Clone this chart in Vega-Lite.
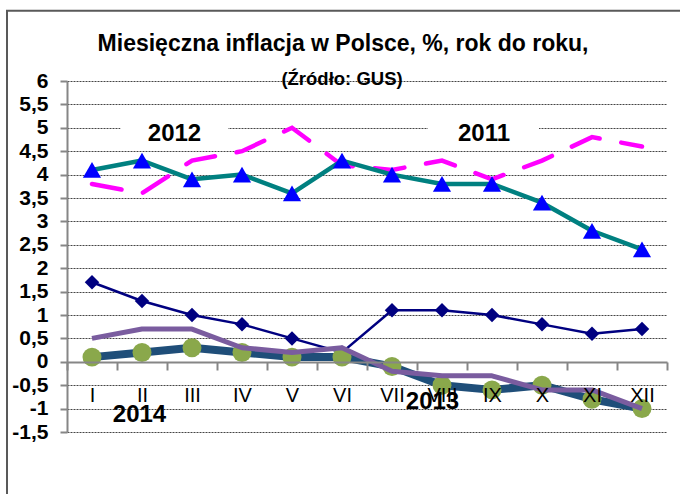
{
  "$schema": "https://vega.github.io/schema/vega-lite/v6.json",
  "width": 600,
  "height": 351,
  "autosize": {"type": "none"},
  "padding": {"left": 67, "top": 81, "right": 13, "bottom": 62},
  "background": "white",
  "datasets": {
    "series": [
      {"month": "I", "series": "2011", "value": 3.8},
      {"month": "II", "series": "2011", "value": 3.6},
      {"month": "III", "series": "2011", "value": 4.3},
      {"month": "IV", "series": "2011", "value": 4.5},
      {"month": "V", "series": "2011", "value": 5.0},
      {"month": "VI", "series": "2011", "value": 4.2},
      {"month": "VII", "series": "2011", "value": 4.1},
      {"month": "VIII", "series": "2011", "value": 4.3},
      {"month": "IX", "series": "2011", "value": 3.9},
      {"month": "X", "series": "2011", "value": 4.3},
      {"month": "XI", "series": "2011", "value": 4.8},
      {"month": "XII", "series": "2011", "value": 4.6},
      {"month": "I", "series": "2012", "value": 4.1},
      {"month": "II", "series": "2012", "value": 4.3},
      {"month": "III", "series": "2012", "value": 3.9},
      {"month": "IV", "series": "2012", "value": 4.0},
      {"month": "V", "series": "2012", "value": 3.6},
      {"month": "VI", "series": "2012", "value": 4.3},
      {"month": "VII", "series": "2012", "value": 4.0},
      {"month": "VIII", "series": "2012", "value": 3.8},
      {"month": "IX", "series": "2012", "value": 3.8},
      {"month": "X", "series": "2012", "value": 3.4},
      {"month": "XI", "series": "2012", "value": 2.8},
      {"month": "XII", "series": "2012", "value": 2.4},
      {"month": "I", "series": "2013", "value": 1.7},
      {"month": "II", "series": "2013", "value": 1.3},
      {"month": "III", "series": "2013", "value": 1.0},
      {"month": "IV", "series": "2013", "value": 0.8},
      {"month": "V", "series": "2013", "value": 0.5},
      {"month": "VI", "series": "2013", "value": 0.2},
      {"month": "VII", "series": "2013", "value": 1.1},
      {"month": "VIII", "series": "2013", "value": 1.1},
      {"month": "IX", "series": "2013", "value": 1.0},
      {"month": "X", "series": "2013", "value": 0.8},
      {"month": "XI", "series": "2013", "value": 0.6},
      {"month": "XII", "series": "2013", "value": 0.7},
      {"month": "I", "series": "2014b", "value": 0.1},
      {"month": "II", "series": "2014b", "value": 0.2},
      {"month": "III", "series": "2014b", "value": 0.3},
      {"month": "IV", "series": "2014b", "value": 0.2},
      {"month": "V", "series": "2014b", "value": 0.1},
      {"month": "VI", "series": "2014b", "value": 0.1},
      {"month": "VII", "series": "2014b", "value": -0.1},
      {"month": "VIII", "series": "2014b", "value": -0.5},
      {"month": "IX", "series": "2014b", "value": -0.6},
      {"month": "X", "series": "2014b", "value": -0.5},
      {"month": "XI", "series": "2014b", "value": -0.8},
      {"month": "XII", "series": "2014b", "value": -1.0},
      {"month": "I", "series": "2014", "value": 0.5},
      {"month": "II", "series": "2014", "value": 0.7},
      {"month": "III", "series": "2014", "value": 0.7},
      {"month": "IV", "series": "2014", "value": 0.3},
      {"month": "V", "series": "2014", "value": 0.2},
      {"month": "VI", "series": "2014", "value": 0.3},
      {"month": "VII", "series": "2014", "value": -0.2},
      {"month": "VIII", "series": "2014", "value": -0.3},
      {"month": "IX", "series": "2014", "value": -0.3},
      {"month": "X", "series": "2014", "value": -0.6},
      {"month": "XI", "series": "2014", "value": -0.6},
      {"month": "XII", "series": "2014", "value": -1.0}
    ],
    "yearLabels": [
      {"label": "2012", "px": 2.15, "py": 4.86},
      {"label": "2011", "px": 8.34, "py": 4.86},
      {"label": "2014", "px": 1.45, "py": -1.14},
      {"label": "2013", "px": 7.31, "py": -0.86}
    ],
    "labelBoxes": [
      {"label": "2012", "x0": 1.07, "x1": 3.22, "y0": 4.65, "y1": 5.4},
      {"label": "2011", "x0": 7.22, "x1": 9.44, "y0": 4.65, "y1": 5.4}
    ],
    "titles": [
      {"text": "Miesięczna inflacja w Polsce, %, rok do roku,", "kind": "title", "px": 5.52, "py": 6.65},
      {"text": "(Źródło: GUS)", "kind": "subtitle", "px": 5.5, "py": 5.91}
    ]
  },
  "config": {
    "font": "Liberation Sans",
    "view": {"stroke": null}
  },
  "layer": [
    {
      "layer": [
        {
          "data": {"values": [{"frame": "border"}]},
          "mark": {"type": "rect", "fill": null, "stroke": "#595959", "strokeWidth": 2, "clip": false},
          "encoding": {
            "x": {"datum": -1.2, "type": "quantitative", "scale": {"domain": [0, 12], "nice": false, "zero": false}, "axis": null},
            "x2": {"datum": 14},
            "y": {"datum": 7.5, "type": "quantitative", "scale": {"domain": [-1.5, 6], "nice": false, "zero": false}, "title": null},
            "y2": {"datum": -4}
          }
        },
        {
          "data": {"name": "labelBoxes"},
          "mark": {"type": "rect", "fill": "white", "stroke": null},
          "encoding": {
            "x": {"field": "x0", "type": "quantitative", "scale": {"domain": [0, 12], "nice": false, "zero": false}, "axis": null},
            "x2": {"field": "x1"},
            "y": {"field": "y0", "type": "quantitative", "scale": {"domain": [-1.5, 6], "nice": false, "zero": false}, "title": null},
            "y2": {"field": "y1"}
          }
        }
      ]
    },
    {
      "data": {"name": "series"},
      "encoding": {
        "x": {
          "field": "month",
          "type": "ordinal",
          "scale": {"type": "band", "domain": ["I", "II", "III", "IV", "V", "VI", "VII", "VIII", "IX", "X", "XI", "XII"], "paddingInner": 0, "paddingOuter": 0},
          "axis": {
            "orient": "bottom",
            "offset": -70,
            "zindex": 1,
            "labelFont": "Liberation Sans",
            "labelFontSize": 20,
            "labelColor": "black",
            "labelPadding": 15,
            "labelAngle": 0,
            "labelOverlap": false,
            "tickBand": "extent",
            "tickSize": 8,
            "tickColor": "#868686",
            "tickWidth": 2,
            "domainColor": "#868686",
            "domainWidth": 2,
            "grid": false,
            "title": null
          }
        },
        "y": {
          "field": "value",
          "type": "quantitative",
          "scale": {"domain": [-1.5, 6], "nice": false, "zero": false},
          "axis": {
            "values": [-1.5, -1, -0.5, 0, 0.5, 1, 1.5, 2, 2.5, 3, 3.5, 4, 4.5, 5, 5.5, 6],
            "tickCount": 20,
            "labelExpr": "replace('' + datum.value, '.', ',')",
            "labelOverlap": false,
            "labelFont": "Liberation Sans",
            "labelFontWeight": "bold",
            "labelFontSize": 21,
            "labelColor": "black",
            "labelPadding": 12,
            "tickSize": 7,
            "tickColor": "#868686",
            "tickWidth": 2,
            "domainColor": "#868686",
            "domainWidth": 2,
            "grid": true,
            "gridColor": "#444444",
            "gridDash": [2, 1],
            "gridWidth": 1,
            "title": null
          }
        }
      },
      "layer": [
        {
          "transform": [{"filter": "datum.series === '2011'"}],
          "mark": {"type": "line", "color": "#FF00FF", "strokeWidth": 4.5, "strokeDash": [30, 22], "strokeCap": "round"}
        },
        {
          "transform": [{"filter": "datum.series === '2012'"}],
          "mark": {"type": "line", "color": "#008080", "strokeWidth": 4.5, "strokeJoin": "round"}
        },
        {
          "transform": [{"filter": "datum.series === '2012'"}],
          "mark": {"type": "point", "shape": "triangle-up", "filled": true, "color": "#0000FF", "opacity": 1, "size": 330}
        },
        {
          "transform": [{"filter": "datum.series === '2013'"}],
          "mark": {"type": "line", "color": "#000080", "strokeWidth": 2.5}
        },
        {
          "transform": [{"filter": "datum.series === '2013'"}],
          "mark": {"type": "point", "shape": "diamond", "filled": true, "color": "#000080", "opacity": 1, "size": 210}
        },
        {
          "transform": [{"filter": "datum.series === '2014b'"}],
          "mark": {"type": "line", "color": "#1F4E79", "strokeWidth": 8, "strokeJoin": "round"}
        },
        {
          "transform": [{"filter": "datum.series === '2014b'"}],
          "mark": {"type": "point", "shape": "circle", "filled": true, "color": "#8AA84B", "opacity": 1, "size": 360}
        },
        {
          "transform": [{"filter": "datum.series === '2014'"}],
          "mark": {"type": "line", "color": "#7A5C9F", "strokeWidth": 5, "strokeJoin": "round"}
        }
      ]
    },
    {
      "layer": [
        {
          "data": {"name": "yearLabels"},
          "mark": {"type": "text", "font": "Liberation Sans", "fontWeight": "bold", "fontSize": 24, "color": "black", "align": "center", "baseline": "middle"},
          "encoding": {
            "x": {"field": "px", "type": "quantitative", "scale": {"domain": [0, 12], "nice": false, "zero": false}, "axis": null},
            "y": {"field": "py", "type": "quantitative", "scale": {"domain": [-1.5, 6], "nice": false, "zero": false}, "title": null},
            "text": {"field": "label"}
          }
        },
        {
          "data": {"name": "titles"},
          "transform": [{"filter": "datum.kind === 'title'"}],
          "mark": {"type": "text", "font": "Liberation Sans", "fontWeight": "bold", "fontSize": 23, "color": "black", "align": "center", "baseline": "alphabetic", "clip": false},
          "encoding": {
            "x": {"field": "px", "type": "quantitative", "scale": {"domain": [0, 12], "nice": false, "zero": false}, "axis": null},
            "y": {"field": "py", "type": "quantitative", "scale": {"domain": [-1.5, 6], "nice": false, "zero": false}, "title": null},
            "text": {"field": "text"}
          }
        },
        {
          "data": {"name": "titles"},
          "transform": [{"filter": "datum.kind === 'subtitle'"}],
          "mark": {"type": "text", "font": "Liberation Sans", "fontWeight": "bold", "fontSize": 18.5, "color": "black", "align": "center", "baseline": "alphabetic", "clip": false},
          "encoding": {
            "x": {"field": "px", "type": "quantitative", "scale": {"domain": [0, 12], "nice": false, "zero": false}, "axis": null},
            "y": {"field": "py", "type": "quantitative", "scale": {"domain": [-1.5, 6], "nice": false, "zero": false}, "title": null},
            "text": {"field": "text"}
          }
        }
      ]
    }
  ],
  "resolve": {"scale": {"x": "independent"}}
}
